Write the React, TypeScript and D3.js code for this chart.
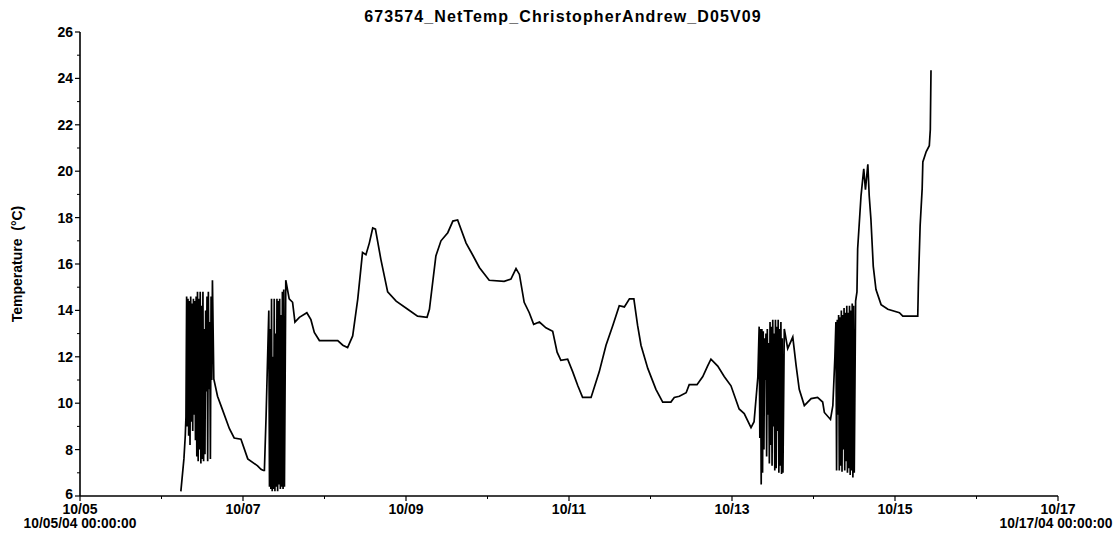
import React from "react";
import * as d3 from "d3";

const TITLE = "673574_NetTemp_ChristopherAndrew_D05V09";
const Y_LABEL = "Temperature  (°C)";
const START = new Date(2004, 9, 5, 0, 0, 0);
const END = new Date(2004, 9, 17, 0, 0, 0);

const yMajorTicks = [6, 8, 10, 12, 14, 16, 18, 20, 22, 24, 26];
const yMinorTicks = [7, 9, 11, 13, 15, 17, 19, 21, 23, 25];
const xMajorDays = [0, 2, 4, 6, 8, 10, 12];
const xMinorDays = [1, 3, 5, 7, 9, 11];
const xTickLabels = ["10/05", "10/07", "10/09", "10/11", "10/13", "10/15", "10/17"];
const xFirstFullLabel = "10/05/04 00:00:00";
const xLastFullLabel = "10/17/04 00:00:00";

// [hours since 10/05/04 00:00, temperature °C]
const rise1: [number, number][] = [
  [29.7, 6.2], [30.6, 7.6], [31.0, 8.6],
];
const burst1: [number, number][] = [
  [31.2, 9.4], [31.4, 14.6], [31.6, 9.0], [31.8, 14.5], [32.0, 8.6], [32.2, 14.4],
  [32.4, 8.2], [32.6, 14.6], [32.8, 9.2], [33.0, 14.3], [33.2, 8.8], [33.4, 14.5],
  [33.6, 9.5], [33.8, 14.4], [34.0, 8.4], [34.2, 14.6], [34.4, 7.7], [34.6, 14.8],
  [34.8, 7.5], [35.0, 14.5], [35.2, 8.0], [35.4, 14.8], [35.6, 7.4], [35.8, 14.2],
  [36.0, 7.6], [36.2, 14.8], [36.4, 7.5], [36.6, 13.2], [36.8, 7.8], [37.0, 14.0],
  [37.2, 10.5], [37.4, 14.6], [37.6, 7.5], [37.8, 14.8], [38.0, 10.6], [38.2, 13.5],
  [38.4, 7.6], [38.6, 14.6], [38.8, 11.0], [39.0, 15.3],
];
const decay1: [number, number][] = [
  [39.4, 11.05], [40.5, 10.3], [42.0, 9.7], [44.0, 8.9], [45.4, 8.5], [47.4, 8.45],
  [49.4, 7.6], [52.3, 7.3], [53.3, 7.15], [54.0, 7.1], [54.3, 7.1], [54.8, 9.45],
];
const burst2: [number, number][] = [
  [55.6, 14.0], [55.8, 6.4], [56.0, 13.2], [56.2, 6.3], [56.4, 14.5], [56.6, 6.2],
  [56.8, 12.0], [57.0, 6.3], [57.2, 14.5], [57.4, 6.2], [57.6, 13.0], [57.8, 6.4],
  [58.0, 14.5], [58.2, 6.2], [58.4, 14.4], [58.6, 6.5], [58.8, 14.5], [59.0, 6.3],
  [59.2, 13.8], [59.4, 6.4], [59.6, 14.8], [59.8, 6.3], [60.0, 14.9], [60.2, 6.4],
  [60.6, 15.3],
];
const middle: [number, number][] = [
  [61.6, 14.5], [62.6, 14.35], [63.3, 13.5], [64.6, 13.7], [66.8, 13.9], [68.0, 13.6],
  [69.0, 13.05], [70.5, 12.7], [75.9, 12.7], [77.4, 12.5], [78.8, 12.4], [80.3, 12.9],
  [81.8, 14.5], [83.2, 16.5], [84.2, 16.4], [85.2, 16.9], [86.2, 17.55], [87.0, 17.5],
  [88.6, 16.2], [90.6, 14.8], [93.1, 14.4], [96.5, 14.05], [99.4, 13.75], [102.2, 13.7],
  [102.9, 14.05], [104.8, 16.35], [106.3, 17.0], [108.3, 17.35], [109.8, 17.85],
  [111.2, 17.9], [113.7, 16.9], [115.6, 16.4], [117.6, 15.85], [120.5, 15.3],
  [124.9, 15.25], [126.9, 15.35], [128.4, 15.8], [129.4, 15.55], [130.8, 14.35],
  [132.3, 13.9], [133.6, 13.4], [135.3, 13.5], [137.2, 13.25], [139.2, 13.1],
  [140.5, 12.2], [141.6, 11.85], [143.6, 11.9], [145.1, 11.35], [146.6, 10.75],
  [148.0, 10.25], [150.5, 10.25], [152.9, 11.35], [154.9, 12.5], [156.9, 13.35],
  [158.8, 14.2], [160.3, 14.15], [161.8, 14.5], [163.1, 14.5], [164.2, 13.35],
  [165.2, 12.5], [167.2, 11.5], [169.6, 10.6], [171.6, 10.05], [174.0, 10.05],
  [175.0, 10.25], [176.5, 10.3], [178.5, 10.45], [179.4, 10.8], [181.7, 10.8],
  [183.4, 11.15], [184.8, 11.6], [185.8, 11.9], [187.8, 11.6], [189.7, 11.15],
  [191.7, 10.75], [194.1, 9.75], [195.6, 9.55], [197.6, 8.95], [198.5, 9.2],
  [199.6, 11.1],
];
const burst3: [number, number][] = [
  [200.0, 13.3], [200.2, 8.5], [200.4, 13.2], [200.6, 6.5], [200.8, 13.2], [201.0, 7.0],
  [201.2, 13.1], [201.4, 8.0], [201.6, 12.8], [201.8, 11.0], [202.0, 13.0], [202.2, 7.7],
  [202.4, 13.2], [202.6, 9.5], [202.8, 12.6], [203.0, 7.4], [203.2, 13.5], [203.4, 8.2],
  [203.6, 13.3], [203.8, 7.3], [204.0, 13.6], [204.2, 9.0], [204.4, 13.0], [204.6, 7.1],
  [204.8, 13.6], [205.0, 7.2], [205.2, 13.3], [205.4, 8.8], [205.6, 13.6], [205.8, 7.0],
  [206.0, 13.2], [206.2, 7.3], [206.4, 13.5], [206.6, 6.95], [206.8, 12.8], [207.0, 7.0],
  [207.4, 13.2],
];
const between: [number, number][] = [
  [208.4, 12.35], [209.9, 12.85], [210.9, 11.6], [211.8, 10.6], [213.3, 9.9],
  [215.3, 10.2], [217.2, 10.25], [218.7, 10.05], [219.2, 9.6], [221.0, 9.3],
  [221.7, 9.9], [222.3, 12.0], [222.6, 13.5],
];
const burst4: [number, number][] = [
  [222.8, 7.1], [223.0, 13.6], [223.2, 9.5], [223.4, 13.8], [223.6, 7.1], [223.8, 13.7],
  [224.0, 7.3], [224.2, 14.0], [224.4, 7.05], [224.6, 13.8], [224.8, 8.0], [225.0, 14.1],
  [225.2, 7.1], [225.4, 13.9], [225.6, 7.5], [225.8, 14.2], [226.0, 7.0], [226.2, 13.9],
  [226.4, 7.2], [226.6, 14.2], [226.8, 6.9], [227.0, 14.0], [227.2, 7.1], [227.4, 14.3],
  [227.6, 6.8], [227.8, 14.2], [228.0, 7.0], [228.4, 14.4], [228.8, 14.8],
];
const ending: [number, number][] = [
  [229.0, 16.65], [230.0, 18.95], [230.8, 20.1], [231.3, 19.2], [232.0, 20.3],
  [232.4, 18.95], [232.9, 17.95], [233.6, 15.9], [234.4, 14.9], [235.9, 14.25],
  [237.9, 14.05], [241.3, 13.9], [242.3, 13.75], [246.7, 13.75], [246.9, 15.2],
  [247.4, 17.65], [248.0, 19.25], [248.2, 20.4], [249.2, 20.85], [250.1, 21.1],
  [250.4, 21.8], [250.6, 24.35],
];

const W = 1117;
const H = 536;
const FONT = "'Liberation Sans', Arial, sans-serif";

export default function App() {
  const x = d3.scaleTime().domain([START, END]).range([80, 1058]);
  const y = d3.scaleLinear().domain([6, 26]).range([496, 32]);
  const toDate = (h: number) => new Date(START.getTime() + h * 3600 * 1000);
  const dayDate = (d: number) => d3.timeDay.offset(START, d);

  const readings = [
    ...rise1, ...burst1, ...decay1, ...burst2, ...middle,
    ...burst3, ...between, ...burst4, ...ending,
  ];
  const line = d3
    .line<[number, number]>()
    .x((d) => x(toDate(d[0])))
    .y((d) => y(d[1]));

  const x0 = x.range()[0];
  const x1 = x.range()[1];
  const yBottom = y.range()[0];
  const yTop = y.range()[1];

  return (
    <div style={{ position: "fixed", left: 0, top: 0, width: W, height: H, background: "#fff" }}>
      <svg width={W} height={H} style={{ display: "block" }}>
        <rect width={W} height={H} fill="#fff" />
        <text
          x={563}
          y={22}
          textAnchor="middle"
          fontFamily={FONT}
          fontWeight="bold"
          fontSize={16}
          letterSpacing={1.1}
          fill="#000"
        >
          {TITLE}
        </text>
        <text
          transform={`translate(22, ${(yTop + yBottom) / 2}) rotate(-90)`}
          textAnchor="middle"
          fontFamily={FONT}
          fontWeight="bold"
          fontSize={14}
          fill="#000"
          style={{ whiteSpace: "pre" }}
        >
          {Y_LABEL}
        </text>

        {/* data line */}
        <path d={line(readings) || ""} fill="none" stroke="#000" strokeWidth={1.7} strokeLinejoin="miter" />

        {/* y axis */}
        <line x1={x0} x2={x0} y1={yTop} y2={yBottom} stroke="#000" strokeWidth={1.6} />
        {yMajorTicks.map((t) => (
          <g key={`ym${t}`}>
            <line x1={x0 - 5} x2={x0} y1={y(t)} y2={y(t)} stroke="#000" strokeWidth={1.2} />
            <text
              x={x0 - 7}
              y={t === 6 ? y(t) - 2 : y(t)}
              dy="0.35em"
              textAnchor="end"
              fontFamily={FONT}
              fontWeight="bold"
              fontSize={14}
              fill="#000"
            >
              {t}
            </text>
          </g>
        ))}
        {yMinorTicks.map((t) => (
          <line key={`yn${t}`} x1={x0 - 3} x2={x0} y1={y(t)} y2={y(t)} stroke="#000" strokeWidth={1} />
        ))}

        {/* x axis */}
        <line x1={x0} x2={x1} y1={yBottom} y2={yBottom} stroke="#000" strokeWidth={1.6} />
        {xMajorDays.map((d, i) => (
          <g key={`xm${d}`}>
            <line x1={x(dayDate(d))} x2={x(dayDate(d))} y1={yBottom} y2={yBottom + 5} stroke="#000" strokeWidth={1.2} />
            <text
              x={x(dayDate(d))}
              y={yBottom + 18}
              textAnchor="middle"
              fontFamily={FONT}
              fontWeight="bold"
              fontSize={14}
              fill="#000"
            >
              {xTickLabels[i]}
            </text>
          </g>
        ))}
        {xMinorDays.map((d) => (
          <line key={`xn${d}`} x1={x(dayDate(d))} x2={x(dayDate(d))} y1={yBottom} y2={yBottom + 3} stroke="#000" strokeWidth={1} />
        ))}
        <text
          x={x(START)}
          y={yBottom + 32}
          textAnchor="middle"
          fontFamily={FONT}
          fontWeight="bold"
          fontSize={13.8}
          fill="#000"
        >
          {xFirstFullLabel}
        </text>
        <text
          x={x(END) - 2}
          y={yBottom + 32}
          textAnchor="middle"
          fontFamily={FONT}
          fontWeight="bold"
          fontSize={13.8}
          fill="#000"
        >
          {xLastFullLabel}
        </text>
      </svg>
    </div>
  );
}
